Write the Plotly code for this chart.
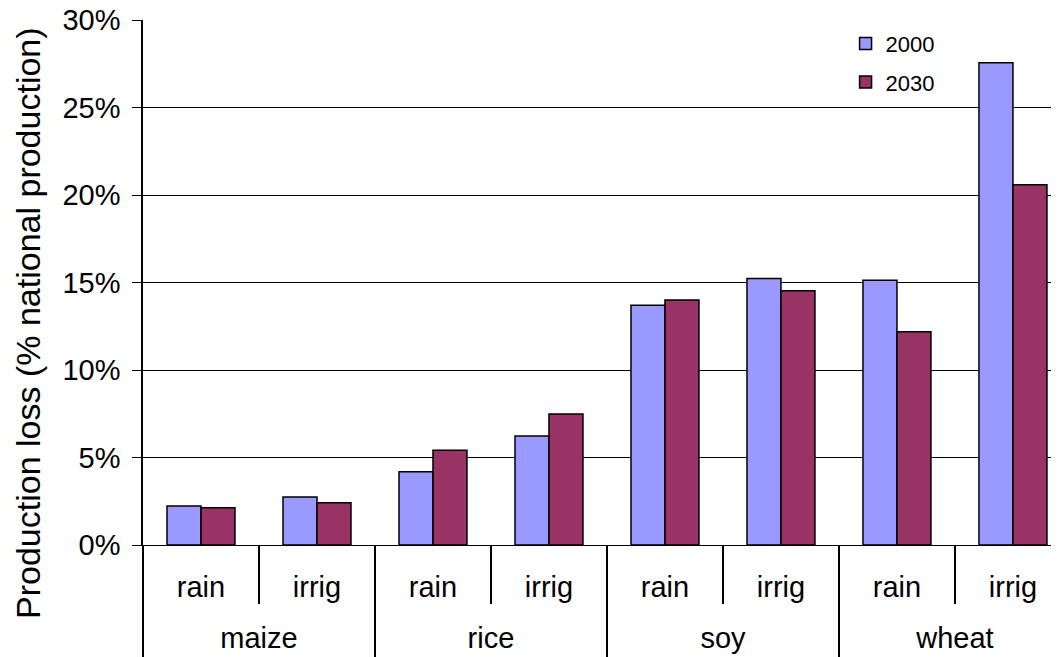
import plotly.graph_objects as go

crops = ["maize", "maize", "rice", "rice", "soy", "soy", "wheat", "wheat"]
systems = ["rain", "irrig", "rain", "irrig", "rain", "irrig", "rain", "irrig"]
loss_2000 = [0.0223, 0.0274, 0.0419, 0.0623, 0.1371, 0.1524, 0.1514, 0.2756]
loss_2030 = [0.0213, 0.0242, 0.0541, 0.0749, 0.1400, 0.1453, 0.1219, 0.2059]
y_ticks = [0, 0.05, 0.10, 0.15, 0.20, 0.25, 0.30]

font_family = "Liberation Sans, Arial, sans-serif"

keys = [f"{c} {s}" for c, s in zip(crops, systems)]
groups = list(dict.fromkeys(crops))
group_idx = {g: [i for i, c in enumerate(crops) if c == g] for g in groups}
group_centers = [sum(v) / len(v) for v in group_idx.values()]
group_bounds = [group_idx[groups[0]][0] - 0.5] + [v[-1] + 0.5 for v in group_idx.values()]

x_range = [-0.5, len(keys) - 0.5 - 0.103]

fig = go.Figure()
fig.add_trace(go.Bar(x=keys, y=loss_2000, name="2000", legendgroup="a",
                     marker=dict(color="#9999FF", line=dict(color="black", width=1.5))))
fig.add_trace(go.Bar(x=keys, y=loss_2030, name="2030", legendgroup="b",
                     marker=dict(color="#993366", line=dict(color="black", width=1.5))))
# invisible helper trace so the crop-group axis is drawn
fig.add_trace(go.Scatter(x=group_centers, y=[0] * len(group_centers), xaxis="x2",
                         mode="markers", marker=dict(opacity=0),
                         showlegend=False, hoverinfo="skip"))

fig.update_layout(
    width=1051, height=649,
    margin=dict(l=135, r=0, t=12, b=112),
    paper_bgcolor="white", plot_bgcolor="white",
    barmode="group", bargap=0.414, bargroupgap=0,
    font=dict(family=font_family, size=29, color="black"),
    showlegend=True,
    legend=dict(x=0.767, y=0.995, xanchor="left", yanchor="top",
                font=dict(size=22), bgcolor="rgba(0,0,0,0)",
                tracegroupgap=7, itemwidth=30),
    xaxis=dict(type="category", range=x_range, automargin=False,
               tickmode="array", tickvals=keys, ticktext=systems,
               showline=True, linecolor="black", linewidth=1,
               ticks="outside", tickson="boundaries", ticklen=58,
               tickcolor="black", tickwidth=1.5,
               ticklabelstandoff=16, showgrid=False),
    xaxis2=dict(overlaying="x", anchor="y", side="bottom", type="linear",
                range=x_range, automargin=False,
                tickmode="array", tickvals=group_centers, ticktext=groups,
                ticks="", showgrid=False, zeroline=False, showline=False,
                ticklabelstandoff=73,
                minor=dict(tickmode="array", tickvals=group_bounds,
                           ticks="outside", ticklen=112,
                           tickcolor="black", tickwidth=1.5, showgrid=False)),
    yaxis=dict(range=[0, 0.3001], tickvals=y_ticks, tickformat=".0%",
               automargin=False, ticklabeloverflow="allow",
               showgrid=True, gridcolor="black", gridwidth=1,
               showline=True, linecolor="black", linewidth=1.5,
               ticks="outside", ticklen=9, tickcolor="black",
               ticklabelstandoff=6,
               zeroline=True, zerolinecolor="black", zerolinewidth=1),
    annotations=[dict(text="Production loss (% national production)",
                      textangle=-90, xref="paper", yref="paper",
                      x=-0.1255, y=0.423, xanchor="center", yanchor="middle",
                      showarrow=False, font=dict(size=34))],
)

fig.write_html("out.html")
